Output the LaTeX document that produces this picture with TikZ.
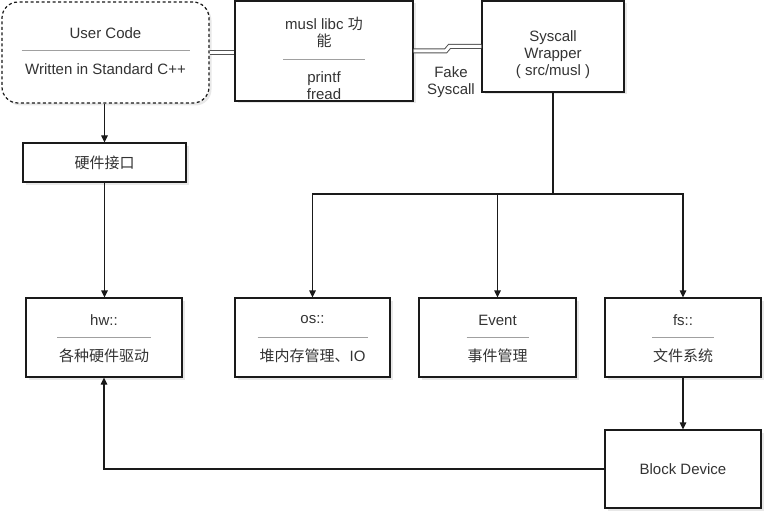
\documentclass[tikz,border=0pt]{standalone}
\usepackage{fontspec}
\setmainfont{Liberation Sans}
\newfontfamily\cjk{Noto Sans CJK SC}
\usetikzlibrary{arrows.meta, positioning, calc, shadows}
\definecolor{lnblack}{HTML}{1A1A1A}
\definecolor{txgray}{HTML}{333333}
\definecolor{sepgray}{HTML}{A0A0A0}

\begin{document}
\begin{tikzpicture}[
  x=1pt, y=-1pt,
  >={Triangle[length=7pt, width=6.5pt]},
  box/.style={
    draw=lnblack, line width=1.2pt, fill=white, inner sep=2pt,
    font=\fontsize{15}{17}\selectfont, text=txgray, align=center,
    drop shadow={shadow xshift=2.5pt, shadow yshift=-2.5pt, opacity=0.18}
  },
  txt/.style={font=\fontsize{15}{17}\selectfont, text=txgray, align=center, inner sep=0pt},
  sep/.style={sepgray, line width=1pt},
  arr/.style={->, line width=1.2pt, lnblack},
  link/.style={double=white, double distance=3pt, line width=1pt, lnblack!75},
]

% Background
\useasboundingbox (0,0) rectangle (776,524);
\fill[white] (0,0) rectangle (776,524);

% =============================================
% TOP: user code, libc, syscall wrapper
% =============================================
\node[box, dash pattern=on 3pt off 2.5pt, rounded corners=16pt,
      minimum width=207, minimum height=101] (user-code) at (105.5,52.5) {};
\node[txt] (user-code-t) at ($(user-code.center)+(0,-19)$) {User Code};
\draw[sep] ($(user-code.center)+(-84,-1.5)$) -- ($(user-code.center)+(84,-1.5)$);
\node[txt] (user-code-b) at ($(user-code.center)+(0,17)$) {Written in Standard C++};

% musl libc
\node[box, minimum width=178, minimum height=100] (libc) at (324,51) {};
\node[txt] (libc-t) at ($(libc.center)+(0,-19)$) {musl libc {\cjk 功}\\{\cjk 能}};
\draw[sep] ($(libc.center)+(-41,8.5)$) -- ($(libc.center)+(41,8.5)$);
\node[txt] (libc-b) at ($(libc.center)+(0,35)$) {printf\\fread};

% Syscall wrapper
\node[box, minimum width=142, minimum height=91] (sys-wrap) at (553,46.5) {};
\node[txt] (sys-wrap-t) at ($(sys-wrap.center)+(0,8)$) {Syscall\\Wrapper\\( src/musl )};

% Links
\draw[link] (user-code.east) -- (user-code.east -| libc.west);
\draw[link] (libc.east) -- ++(32,0) -- ($(sys-wrap.west)+(-32,0)$) -- (sys-wrap.west);
\node[txt] (fake) at (451,82) {Fake\\Syscall};

% Hardware interface
\node[box, minimum width=163, minimum height=39] (hw-if) at (104.5,162.5) {{\cjk 硬件接口}};

% =============================================
% MIDDLE ROW: modules
% =============================================
\node[box, minimum width=156, minimum height=79] (hw) at (104,337.5) {};
\node[txt] (hw-t) at ($(hw.center)+(0,-17.5)$) {hw::};
\draw[sep] ($(hw.center)+(-47,0)$) -- ($(hw.center)+(47,0)$);
\node[txt] (hw-b) at ($(hw.center)+(0,18)$) {{\cjk 各种硬件驱动}};

\node[box, minimum width=155, minimum height=79] (os) at (312.5,337.5) {};
\node[txt] (os-t) at ($(os.center)+(0,-17.5)$) {os::};
\draw[sep] ($(os.center)+(-55,0)$) -- ($(os.center)+(55,0)$);
\node[txt] (os-b) at ($(os.center)+(0,18)$) {{\cjk 堆内存管理、}IO};

\node[box, minimum width=157, minimum height=79] (event) at (497.5,337.5) {};
\node[txt] (event-t) at ($(event.center)+(0,-17.5)$) {Event};
\draw[sep] ($(event.center)+(-31,0)$) -- ($(event.center)+(31,0)$);
\node[txt] (event-b) at ($(event.center)+(0,18)$) {{\cjk 事件管理}};

\node[box, minimum width=156, minimum height=79] (fs) at (683,337.5) {};
\node[txt] (fs-t) at ($(fs.center)+(0,-17.5)$) {fs::};
\draw[sep] ($(fs.center)+(-31,0)$) -- ($(fs.center)+(31,0)$);
\node[txt] (fs-b) at ($(fs.center)+(0,18)$) {{\cjk 文件系统}};

% Block device
\node[box, minimum width=156, minimum height=78] (blk) at (683,469) {Block Device};

% Arrows
\coordinate (bus) at (553,194);
\draw[arr] (hw-if.north |- user-code.south) -- (hw-if.north);
\draw[arr] (hw-if.south) -- (hw-if.south |- hw.north);
\draw[arr] (sys-wrap.south) -- (bus) -| (os.north);
\draw[arr] (bus) -| (event.north);
\draw[arr] (bus) -| (fs.north);
\draw[arr] (fs.south) -- (blk.north);
\draw[arr] (blk.west) -| (hw.south);

\end{tikzpicture}
\end{document}
